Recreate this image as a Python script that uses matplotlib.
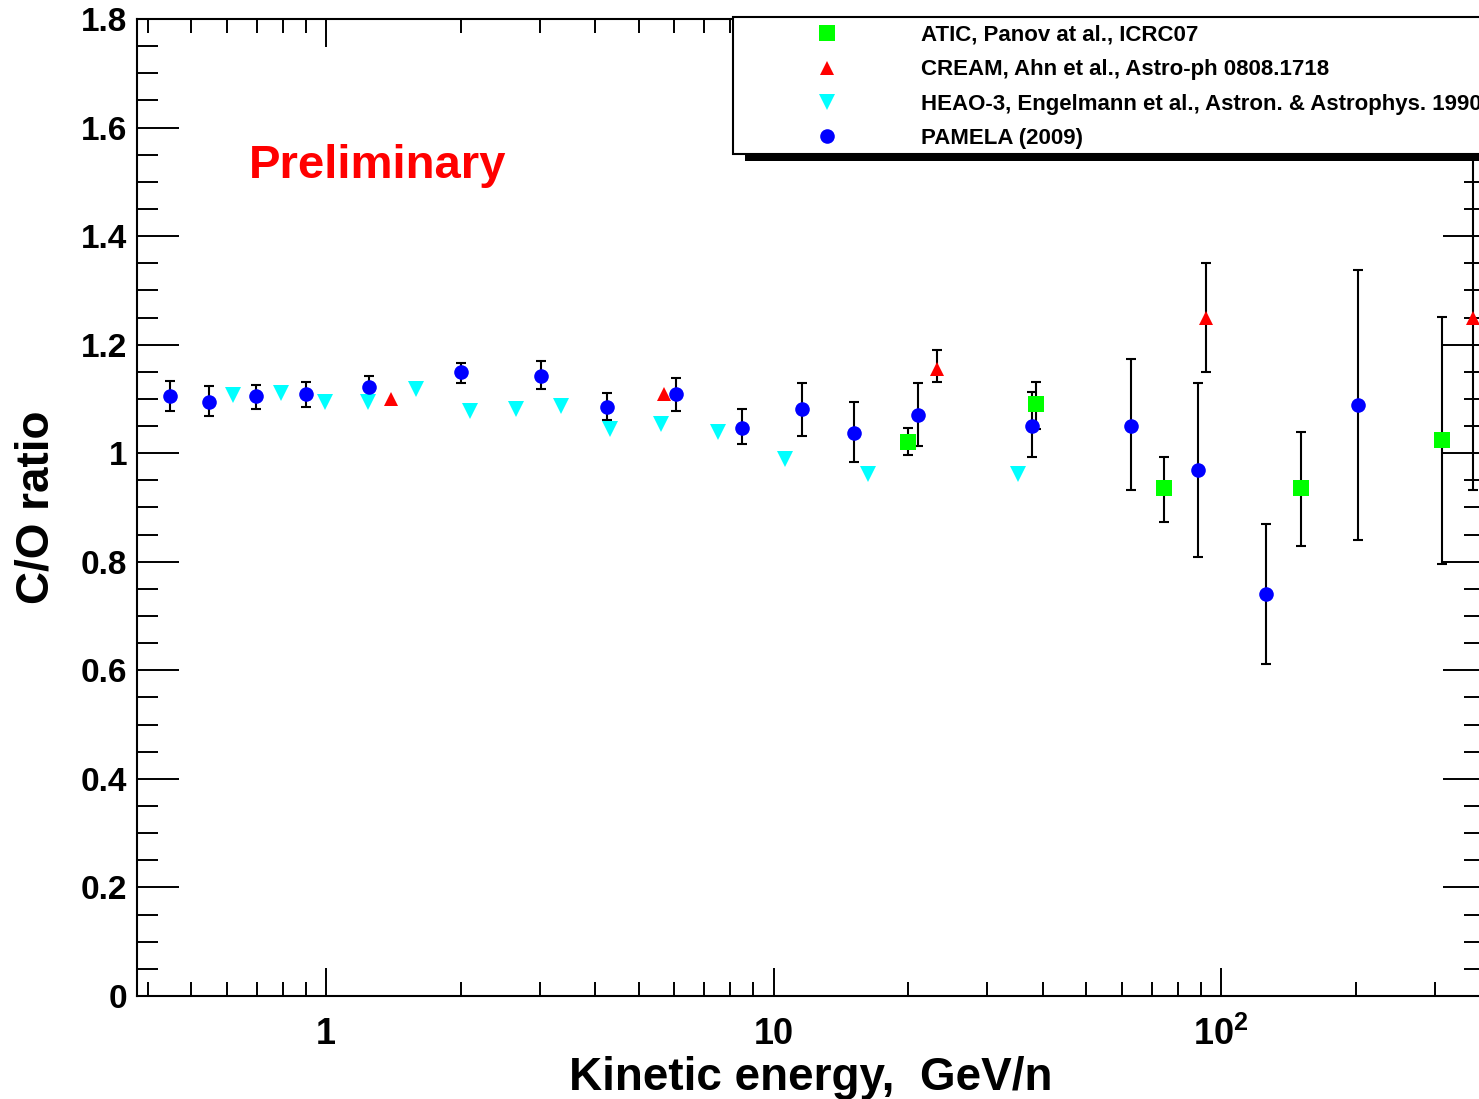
import matplotlib
matplotlib.use('Agg')
import matplotlib.pyplot as plt
from matplotlib.lines import Line2D
from matplotlib.patches import Rectangle
from matplotlib.ticker import FixedLocator, FixedFormatter, FuncFormatter, MultipleLocator, LogLocator, NullFormatter
import numpy as np

plt.rcParams['font.family'] = ['Liberation Sans', 'DejaVu Sans']
plt.rcParams['font.weight'] = 'bold'
plt.rcParams['mathtext.fontset'] = 'custom'
plt.rcParams['mathtext.rm'] = 'Liberation Sans:bold'
plt.rcParams['mathtext.bf'] = 'Liberation Sans:bold'

# PAMELA (2009)
pam_e = [0.448, 0.548, 0.698, 0.902, 1.248, 2.003, 3.02, 4.25, 6.06, 8.50, 11.58, 15.13, 21.03, 37.8, 62.9, 88.9, 126, 202]
pam_r = [1.105, 1.094, 1.105, 1.109, 1.122, 1.150, 1.142, 1.085, 1.109, 1.046, 1.081, 1.037, 1.070, 1.050, 1.050, 0.969, 0.741, 1.089]
pam_hi = [1.133, 1.124, 1.126, 1.131, 1.142, 1.166, 1.170, 1.111, 1.139, 1.081, 1.129, 1.094, 1.129, 1.113, 1.174, 1.129, 0.870, 1.338]
pam_lo = [1.078, 1.069, 1.081, 1.085, 1.105, 1.129, 1.118, 1.061, 1.078, 1.017, 1.032, 0.984, 1.013, 0.993, 0.932, 0.809, 0.612, 0.840]

# ATIC, Panov et al.
atic_e = [20.0, 38.6, 74.6, 151, 311]
atic_r = [1.021, 1.090, 0.936, 0.936, 1.024]
atic_hi = [1.047, 1.132, 0.993, 1.040, 1.251]
atic_lo = [0.996, 1.044, 0.873, 0.829, 0.796]

# CREAM, Ahn et al.
cream_e = [1.397, 5.70, 23.2, 92.4, 366]
cream_r = [1.099, 1.110, 1.155, 1.249, 1.249]
cream_hi = [1.099, 1.110, 1.190, 1.350, 1.568]
cream_lo = [1.099, 1.110, 1.132, 1.150, 0.932]

# HEAO-3, Engelmann et al.
heao_e = [0.620, 0.793, 0.997, 1.239, 1.591, 2.101, 2.662, 3.351, 4.30, 5.60, 7.52, 10.6, 16.3, 35.2]
heao_r = [1.108, 1.111, 1.094, 1.095, 1.118, 1.078, 1.081, 1.087, 1.044, 1.053, 1.040, 0.989, 0.961, 0.961]

labels = ['ATIC, Panov at al., ICRC07',
          'CREAM, Ahn et al., Astro-ph 0808.1718',
          'HEAO-3, Engelmann et al., Astron. & Astrophys. 1990',
          'PAMELA (2009)']

W, H = 1479, 1099
fig = plt.figure(figsize=(W / 100, H / 100), dpi=100)
ax = fig.add_axes([137 / W, 103 / H, (1485 - 137) / W, (996 - 19) / H])

ebkw = dict(fmt='none', ecolor='black', elinewidth=1.5, capsize=3.8, capthick=1.5, zorder=2)


def yerr(r, lo, hi):
    r, lo, hi = np.array(r), np.array(lo), np.array(hi)
    return np.vstack([r - lo, hi - r])


# error bars
ax.errorbar(pam_e, pam_r, yerr=yerr(pam_r, pam_lo, pam_hi), **ebkw)
ax.errorbar(atic_e, atic_r, yerr=yerr(atic_r, atic_lo, atic_hi), **ebkw)
ce = np.array(cream_e)
m = np.array(cream_hi) != np.array(cream_lo)
ax.errorbar(ce[m], np.array(cream_r)[m],
            yerr=yerr(cream_r, cream_lo, cream_hi)[:, m], **ebkw)

# markers
ax.plot(heao_e, heao_r, 'v', color='#00ffff', ms=11, mew=0, zorder=3)
ax.plot(cream_e, cream_r, '^', color='#ff0000', ms=9.5, mew=0, zorder=3)
ax.plot(atic_e, atic_r, 's', color='#00ff00', ms=11, mew=0, zorder=3)
ax.plot(pam_e, pam_r, 'o', color='#0000ff', ms=10.5, mew=0, zorder=3)

ax.set_xscale('log')
ax.set_xlim(0.378, 389)
ax.set_ylim(0, 1.8)

ax.xaxis.set_major_locator(FixedLocator([1, 10, 100]))
ax.xaxis.set_major_formatter(FixedFormatter(['1', '10', r'$\mathbf{10^{2}}$']))
ax.xaxis.set_minor_locator(LogLocator(base=10, subs=np.arange(2, 10)))
ax.xaxis.set_minor_formatter(NullFormatter())
ax.yaxis.set_major_locator(MultipleLocator(0.2))
ax.yaxis.set_major_formatter(FuncFormatter(lambda v, p: f'{v:g}'))
ax.yaxis.set_minor_locator(MultipleLocator(0.05))

ax.tick_params(axis='both', which='both', direction='in', top=True, right=True, width=1.4, color='black')
ax.tick_params(axis='x', which='major', length=20, labelsize=26, pad=15)
ax.tick_params(axis='x', which='minor', length=10)
ax.tick_params(axis='y', which='major', length=30, labelsize=24, pad=7)
ax.tick_params(axis='y', which='minor', length=15)
for s in ax.spines.values():
    s.set_linewidth(1.5)

ax.set_xlabel('Kinetic energy,  GeV/n', fontsize=33, fontweight='bold')
ax.xaxis.set_label_coords(0.5, -0.061)
ax.set_ylabel('C/O ratio', fontsize=33, fontweight='bold')
ax.yaxis.set_label_coords(-0.058, 0.5)

ax.text(0.673, 1.507, 'Preliminary', color='red', fontsize=34, fontweight='bold',
        ha='left', va='baseline')

# legend box (ROOT style with shadow)
ax.add_patch(Rectangle((745 / W, 1 - 161 / H), 900 / W, 8 / H, transform=fig.transFigure,
                       fc='black', ec='none', clip_on=False, zorder=4))
ax.add_patch(Rectangle((733 / W, 1 - 154 / H), 900 / W, (154 - 17) / H, transform=fig.transFigure,
                       fc='white', ec='black', lw=1.5, clip_on=False, zorder=4.1))
handles = [Line2D([], [], ls='none', marker='s', color='#00ff00', ms=11, mew=0),
           Line2D([], [], ls='none', marker='^', color='#ff0000', ms=9.5, mew=0),
           Line2D([], [], ls='none', marker='v', color='#00ffff', ms=11, mew=0),
           Line2D([], [], ls='none', marker='o', color='#0000ff', ms=10.5, mew=0)]
leg = ax.legend(handles, labels, loc='upper left', bbox_to_anchor=(805 / W, 1 - 25 / H),
                bbox_transform=fig.transFigure, frameon=False, borderpad=0, borderaxespad=0,
                handlelength=2, handletextpad=3.2, labelspacing=0.6,
                prop={'size': 16, 'weight': 'bold'})
leg.set_zorder(5)

fig.savefig('out.png', dpi=100)
